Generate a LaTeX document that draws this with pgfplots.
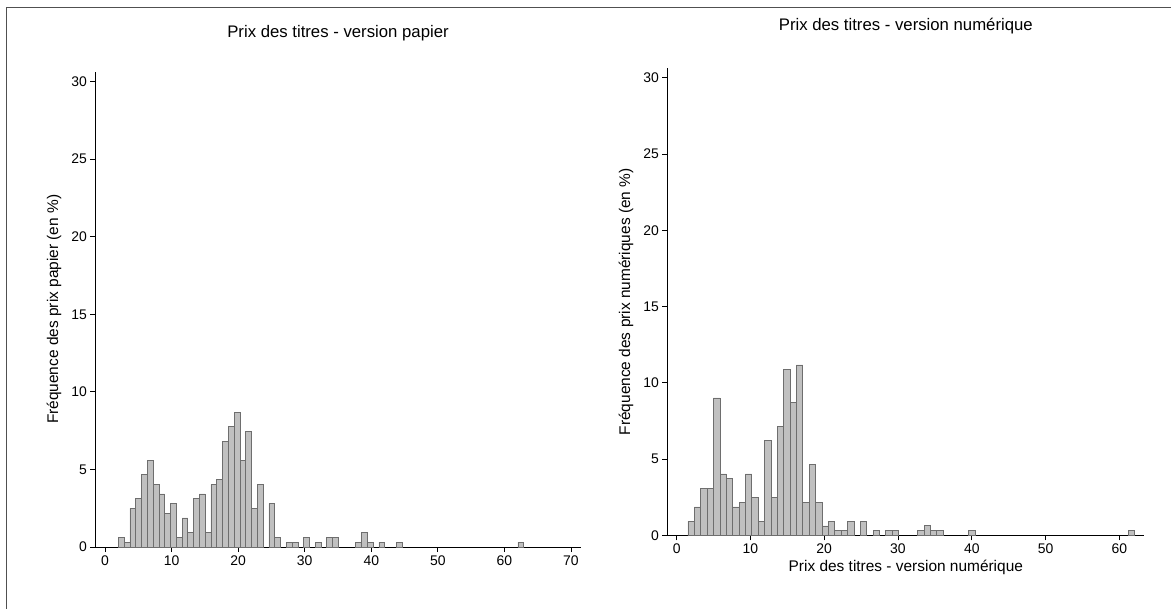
\documentclass[border=0pt]{standalone}
\usepackage{fontspec}
\setmainfont{Liberation Sans}
\usepackage{pgfplots}
\pgfplotsset{compat=1.18}
\definecolor{barfill}{RGB}{192,192,192}
\definecolor{baredge}{RGB}{110,110,110}
\definecolor{framecol}{RGB}{80,80,80}
\pgfplotsset{
  statastyle/.style={
    scale only axis, anchor=south west,
    axis lines=left, axis line style={-, line width=0.8bp, black},
    tick align=outside, major tick length=5bp,
    tick style={line width=0.8bp, black},
    xtick={0,10,...,70}, ytick={0,5,...,30},
    ticklabel style={font=\fontsize{14}{14}\selectfont},
    /pgf/number format/assume math mode=true,
    title style={font=\fontsize{16.8}{16.8}\selectfont},
    label style={font=\fontsize{15.5}{15.5}\selectfont},
    ylabel shift=3bp,
  },
  statabar/.style={ybar, bar shift=0pt, fill=barfill, draw=baredge, line width=0.7bp},
}
\begin{document}
\begin{tikzpicture}
\useasboundingbox (0bp,0bp) rectangle (1171bp,609bp);
\draw[framecol, line width=1bp] (6bp,0bp) -- (6bp,601bp) -- (1171bp,601bp);
\begin{axis}[statastyle,
  at={(95.3bp,62bp)}, width=485.4bp, height=475.3bp,
  xmin=-1.46, xmax=71.46, ymin=0, ymax=30.64,
  title={Prix des titres - version papier},
  title style={at={(axis description cs:0.5,1)}, anchor=base, yshift=28bp},
  ylabel={Fréquence des prix papier (en \%)},
]
\addplot[statabar, bar width=0.87] coordinates {
(2.435,0.62) (3.305,0.31) (4.175,2.49) (5.045,3.12) (5.915,4.67)
(6.785,5.59) (7.655,4.04) (8.525,3.42) (9.395,2.18) (10.265,2.80)
(11.135,0.62) (12.005,1.87) (12.875,0.93) (13.745,3.12) (14.615,3.42)
(15.485,0.93) (16.355,4.04) (17.225,4.36) (18.095,6.83) (18.965,7.76)
(19.835,8.68) (20.705,5.59) (21.575,7.44) (22.445,2.49) (23.315,4.04)
(25.055,2.80) (25.925,0.62) (27.665,0.31) (28.535,0.31) (30.275,0.62)
(32.015,0.31) (33.755,0.62) (34.625,0.62) (38.105,0.31) (38.975,0.93)
(39.845,0.31) (41.585,0.31) (44.195,0.31) (62.465,0.31)
};
\end{axis}
\begin{axis}[statastyle,
  at={(667.3bp,73.7bp)}, width=477bp, height=467bp,
  xmin=-1.27, xmax=63.39, ymin=0, ymax=30.62,
  xtick={0,10,...,60},
  title={Prix des titres - version numérique},
  title style={at={(axis description cs:0.5,1)}, anchor=base, yshift=32bp},
  ylabel={Fréquence des prix numériques (en \%)},
  xlabel={Prix des titres - version numérique},
]
\addplot[statabar, bar width=0.865] coordinates {
(1.9625,0.92) (2.8275,1.86) (3.6925,3.10) (4.5575,3.10) (5.4225,9.01)
(6.2875,4.02) (7.1525,3.72) (8.0175,1.86) (8.8825,2.16) (9.7475,4.02)
(10.6125,2.47) (11.4775,0.92) (12.3425,6.23) (13.2075,2.47) (14.0725,7.15)
(14.9375,10.86) (15.8025,8.70) (16.6675,11.17) (17.5325,2.16) (18.3975,4.66)
(19.2625,2.16) (20.1275,0.61) (20.9925,0.92) (21.8575,0.31) (22.7225,0.31)
(23.5875,0.92) (25.3175,0.92) (27.0475,0.31) (28.7775,0.31) (29.6425,0.31)
(33.1025,0.31) (33.9675,0.62) (34.8325,0.31) (35.6975,0.31) (40.0225,0.31)
(61.6475,0.31)
};
\end{axis}
\end{tikzpicture}
\end{document}
